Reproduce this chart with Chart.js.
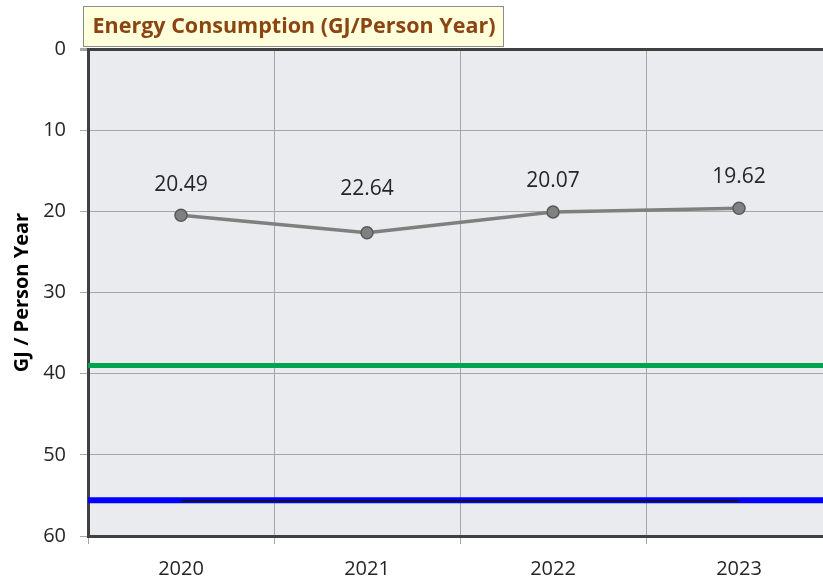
<!DOCTYPE html>
<html>
<head>
<meta charset="utf-8">
<script src="https://cdn.jsdelivr.net/npm/chart.js@4"></script>
<style>
  html, body { margin: 0; padding: 0; background: #fff; overflow: hidden; }
  .chart-wrap { position: absolute; left: 0; top: 0; width: 840px; height: 583px; }
</style>
</head>
<body>
<div class="chart-wrap"><canvas class="js-chart-place"></canvas></div>
<script>
const years = ['2020', '2021', '2022', '2023'];
const energyValues = [20.49, 22.64, 20.07, 19.62];
const greenLevel = [39, 39];
const blueLevel = [55.6, 55.6];
const blackLevel = [55.7, 55.7, 55.7, 55.7];
const yTicks = [0, 10, 20, 30, 40, 50, 60];

const chartPlaceElement = document.querySelector('.js-chart-place');

// plot background + title box
const backdrop = {
  id: 'backdrop',
  beforeDraw(chart) {
    const { ctx, chartArea } = chart;
    ctx.save();
    ctx.fillStyle = '#eaebee';
    ctx.fillRect(chartArea.left, chartArea.top, chartArea.right - chartArea.left, chartArea.bottom - chartArea.top);
    ctx.restore();
  },
  afterDraw(chart) {
    const { ctx } = chart;
    ctx.save();
    ctx.fillStyle = '#ffffdc';
    ctx.strokeStyle = '#8c8c8c';
    ctx.lineWidth = 1;
    ctx.fillRect(83, 6, 420, 40);
    ctx.strokeRect(83.5, 6.5, 420, 40);
    ctx.fillStyle = '#8b4513';
    ctx.font = 'bold 21.5px "Open Sans"';
    ctx.textBaseline = 'middle';
    ctx.textAlign = 'center';
    ctx.fillText('Energy Consumption (GJ/Person Year)', 294, 27);
    ctx.restore();
  }
};

// value labels above the points (2021 label sits a bit higher in the original)
const labelGaps = [30, 44, 31, 31];
const valueLabels = {
  id: 'valueLabels',
  afterDatasetsDraw(chart) {
    const { ctx } = chart;
    const meta = chart.getDatasetMeta(0);
    ctx.save();
    ctx.fillStyle = '#262626';
    ctx.font = '21px "Open Sans"';
    ctx.textAlign = 'center';
    ctx.textBaseline = 'middle';
    meta.data.forEach((pt, i) => {
      ctx.fillText(energyValues[i].toFixed(2), pt.x, pt.y - labelGaps[i]);
    });
    ctx.restore();
  }
};

new Chart(chartPlaceElement, {
  type: 'line',
  data: {
    labels: years,
    datasets: [{
      label: 'Energy',
      data: energyValues,
      borderColor: '#7f7f7f',
      borderWidth: 3.5,
      pointRadius: 6,
      pointBackgroundColor: '#808080',
      pointBorderColor: '#5a5a5a',
      pointBorderWidth: 1.5,
      order: 0
    }, {
      label: 'black',
      data: blackLevel,
      borderColor: '#10103a',
      borderWidth: 2,
      pointRadius: 0,
      order: 1
    }, {
      label: 'green',
      xAxisID: 'xFull',
      data: greenLevel.map((v, i) => ({ x: i * 4, y: v })),
      borderColor: '#00a34f',
      borderWidth: 5,
      pointRadius: 0,
      order: 2
    }, {
      label: 'blue',
      xAxisID: 'xFull',
      data: blueLevel.map((v, i) => ({ x: i * 4, y: v })),
      borderColor: '#0000ff',
      borderWidth: 6,
      pointRadius: 0,
      order: 3
    }]
  },
  options: {
    responsive: true,
    maintainAspectRatio: false,
    animation: false,
    layout: { padding: { left: 0, top: 49, right: 8, bottom: 0 } },
    plugins: {
      legend: { display: false },
      tooltip: { enabled: false }
    },
    scales: {
      x: {
        type: 'category',
        offset: true,
        grid: {
          offset: true,
          color: '#a6a6a6',
          tickColor: '#a6a6a6',
          tickLength: 8
        },
        border: { color: '#404040', width: 3 },
        ticks: {
          color: '#262626',
          font: { family: 'Open Sans', size: 20 },
          padding: 13
        },
        afterFit(scale) { scale.height = 47; }
      },
      xFull: {
        type: 'linear',
        min: 0,
        max: 4,
        display: false
      },
      y: {
        reverse: true,
        min: 0,
        max: 60,
        afterBuildTicks(scale) { scale.ticks = yTicks.map(v => ({ value: v })); },
        grid: {
          color: (c) => (c.tick && c.tick.value === 0) ? '#404040' : '#a6a6a6',
          lineWidth: (c) => (c.tick && c.tick.value === 0) ? 3 : 1,
          tickColor: '#a6a6a6',
          tickLength: 8
        },
        border: { color: '#404040', width: 3 },
        ticks: {
          color: '#262626',
          font: { family: 'Open Sans', size: 20 },
          padding: 14
        },
        title: {
          display: true,
          text: 'GJ / Person Year',
          color: '#000',
          font: { family: 'Open Sans', size: 20, weight: 'bold' },
          padding: { top: 10, bottom: 0 }
        },
        afterFit(scale) { scale.width = 88; }
      }
    }
  },
  plugins: [backdrop, valueLabels]
});
</script>
</body>
</html>
